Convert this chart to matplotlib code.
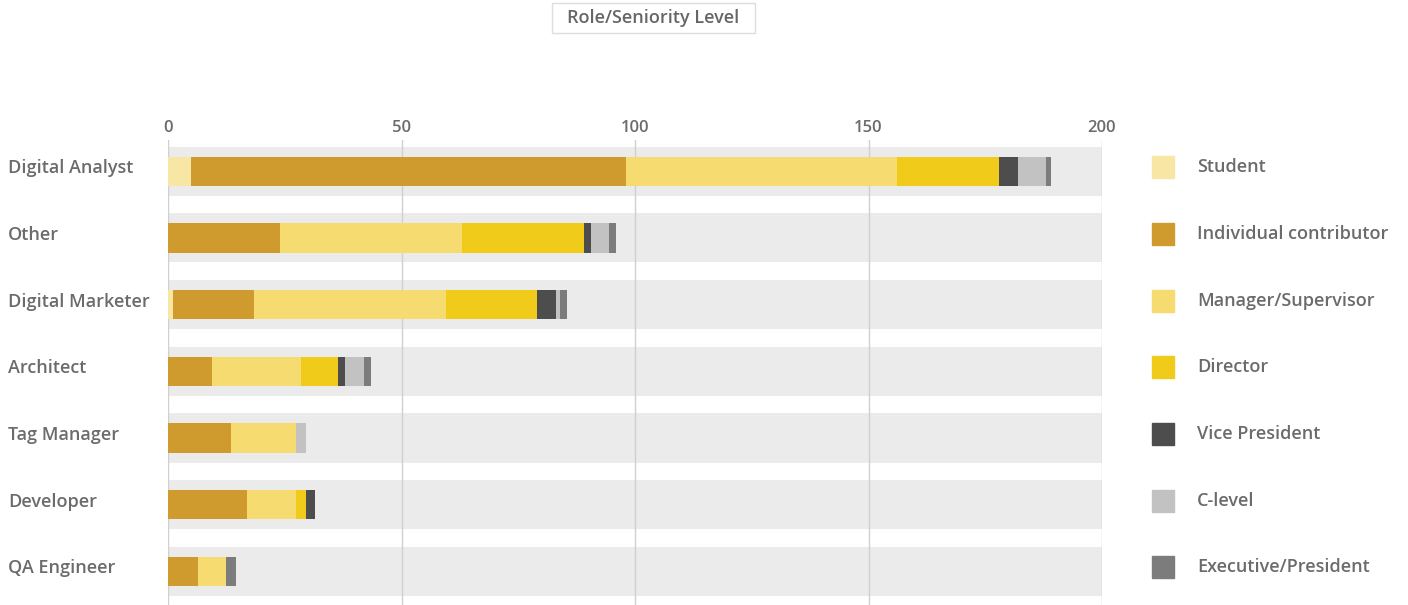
import matplotlib
matplotlib.use("Agg")
import numpy as np
import matplotlib.pyplot as plt
from matplotlib.patches import Rectangle
from matplotlib.transforms import blended_transform_factory, ScaledTranslation

roles = ['Digital Analyst', 'Other', 'Digital Marketer', 'Architect',
         'Tag Manager', 'Developer', 'QA Engineer']
levels = ['Student', 'Individual contributor', 'Manager/Supervisor', 'Director',
          'Vice President', 'C-level', 'Executive/President']

student = [5, 0, 1, 0, 0, 0, 0]
individual = [93, 24, 17.5, 9.5, 13.5, 17, 6.5]
manager = [58, 39, 41, 19, 14, 10.5, 6]
director = [22, 26, 19.5, 8, 0, 2, 0]
vice_president = [4, 1.5, 4, 1.5, 0, 2, 0]
c_level = [6, 4, 1, 4, 2, 0, 0]
executive = [1, 1.5, 1.5, 1.5, 0, 0, 2]

x_ticks = [0, 50, 100, 150, 200]
colors = ['#f7e6a4', '#cf9a2e', '#f5db70', '#f0cb1a', '#4d4d4d', '#c2c2c2', '#7c7c7c']

plt.rcParams['font.family'] = ['Open Sans', 'DejaVu Sans']
text_color = '#6b6b6b'


def main() -> None:
    fig = plt.figure(figsize=(14.08, 6.05), dpi=100)
    ax = fig.add_axes([168 / 1408, 0, 934 / 1408, 1 - 140 / 605])

    y = np.arange(len(roles))
    series = [student, individual, manager, director, vice_president, c_level, executive]

    # grey row bands behind everything
    ax.barh(y, [x_ticks[-1]] * len(roles), height=0.735, color='#ebebeb', zorder=0)
    for t in x_ticks:
        ax.axvline(t, color='#d0d0d0', lw=1, zorder=1)

    left = np.zeros(len(roles))
    for vals, col in zip(series, colors):
        vals = np.array(vals, dtype=float)
        ax.barh(y, vals, left=left, height=0.44, color=col, zorder=2)
        left += vals

    ax.set_xlim(0, 200)
    ax.set_ylim(6.504, -0.468)
    ax.xaxis.tick_top()
    ax.set_xticks(x_ticks)
    ax.set_yticks([])
    ax.tick_params(axis='x', length=0, pad=3, labelsize=12, labelcolor=text_color)
    for lab in ax.get_xticklabels():
        lab.set_fontweight('semibold')
    for s in ax.spines.values():
        s.set_visible(False)

    # role labels, left aligned at the figure edge, nudged up a little
    up = ScaledTranslation(0, 3 / 100, fig.dpi_scale_trans)
    trans = blended_transform_factory(fig.transFigure, ax.transData) + up
    for yi, name in zip(y, roles):
        ax.text(8 / 1408, yi, name, transform=trans, ha='left', va='center',
                fontsize=13, color=text_color, fontweight='semibold')

    # legend column on the right, one entry per row
    lax = fig.add_axes([1140 / 1408, 0, 268 / 1408, 1 - 140 / 605])
    lax.set_xlim(0, 268)
    lax.set_ylim(6.504, -0.468)
    lax.axis('off')
    sq = 22 / 66.7
    for i, (name, col) in enumerate(zip(levels, colors)):
        yc = i - 0.06
        lax.add_patch(Rectangle((12, yc - sq / 2), 22, sq, color=col))
        lax.text(57, yc, name, va='center', ha='left', fontsize=13,
                 color=text_color, fontweight='semibold')

    fig.patches.append(Rectangle((552 / 1408, 1 - 33 / 605), 203 / 1408, 30 / 605,
                                 transform=fig.transFigure, fc='white', ec='#dddddd', lw=1))
    fig.text(653 / 1408, 1 - 18 / 605, 'Role/Seniority Level', ha='center', va='center',
             fontsize=13, color='#666666', fontweight='semibold')

    fig.savefig('out.png', dpi=100)


if __name__ == "__main__":
    main()
